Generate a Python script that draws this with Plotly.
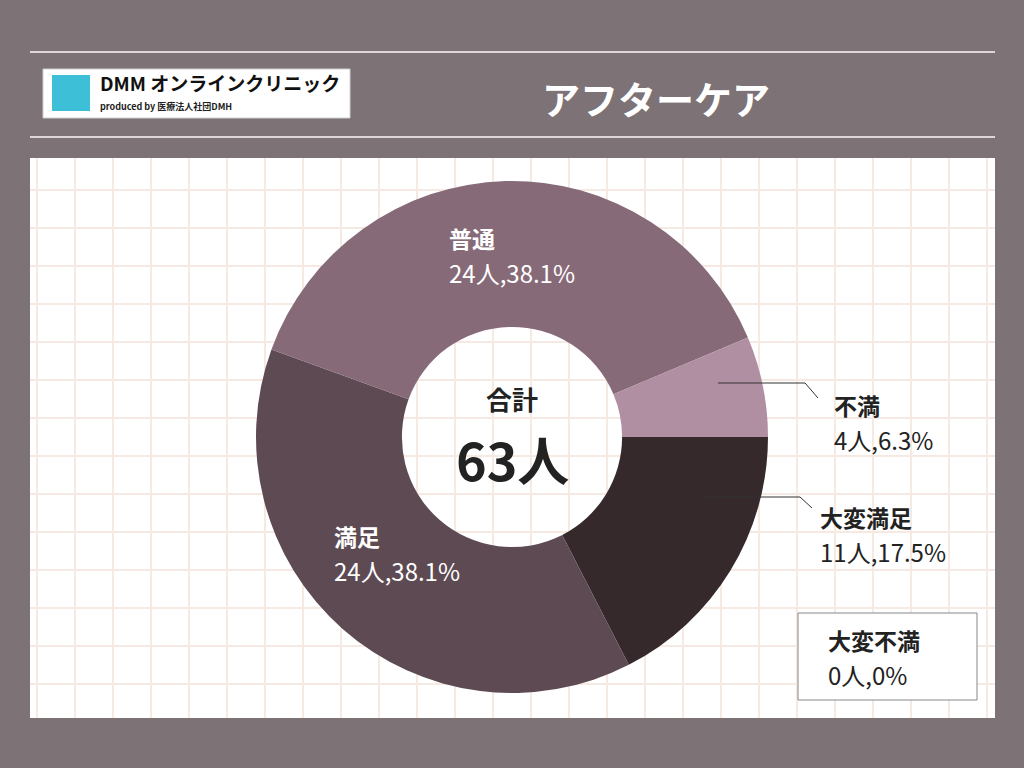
import plotly.graph_objects as go

labels = ["大変満足", "満足", "普通", "不満", "大変不満"]
counts = [11, 24, 24, 4, 0]
pcts = ["17.5%", "38.1%", "38.1%", "6.3%", "0%"]
colors = ["#35292c", "#5e4a53", "#876a78", "#b08fa3", "#cccccc"]
total = 63

W, H = 1024, 768
def px(x): return x / W
def py(y): return 1 - y / H

F = "Noto Sans CJK JP"
fig = go.Figure()
fig.add_trace(go.Pie(labels=labels[:4], values=counts[:4], marker=dict(colors=colors[:4], line=dict(width=0)),
                     hole=0.43, sort=False, direction="clockwise", rotation=90, textinfo="none",
                     hoverinfo="label+value+percent", showlegend=False,
                     domain=dict(x=[px(256), px(768)], y=[py(693), py(181)])))

shapes = []
shapes.append(dict(type="rect", xref="paper", yref="paper", x0=px(30), x1=px(995), y0=py(718), y1=py(158),
                   fillcolor="white", line=dict(width=0), layer="below"))
gx = 37
while gx < 995:
    shapes.append(dict(type="line", xref="paper", yref="paper", x0=px(gx), x1=px(gx), y0=py(718), y1=py(158),
                       line=dict(color="#f6e9e2", width=2), layer="below"))
    gx += 38
gy = 190
while gy < 718:
    shapes.append(dict(type="line", xref="paper", yref="paper", x0=px(30), x1=px(995), y0=py(gy), y1=py(gy),
                       line=dict(color="#f6e9e2", width=2), layer="below"))
    gy += 38
for yy in (52, 137):
    shapes.append(dict(type="line", xref="paper", yref="paper", x0=px(30), x1=px(995), y0=py(yy), y1=py(yy),
                       line=dict(color="#ddd6d8", width=2)))
shapes.append(dict(type="rect", xref="paper", yref="paper", x0=px(43), x1=px(350), y0=py(118), y1=py(69),
                   fillcolor="white", line=dict(color="#cfcfcf", width=1)))
shapes.append(dict(type="rect", xref="paper", yref="paper", x0=px(52), x1=px(90), y0=py(111), y1=py(75),
                   fillcolor="#3dbfd8", line=dict(width=0)))
shapes.append(dict(type="path", xref="paper", yref="paper",
                   path=f"M {px(718)},{py(383)} L {px(805)},{py(383)} L {px(818)},{py(398)}",
                   line=dict(color="#333", width=1)))
shapes.append(dict(type="path", xref="paper", yref="paper",
                   path=f"M {px(705)},{py(497)} L {px(800)},{py(497)} L {px(812)},{py(508)}",
                   line=dict(color="#333", width=1)))
shapes.append(dict(type="rect", xref="paper", yref="paper", x0=px(798), x1=px(977), y0=py(700), y1=py(613),
                   fillcolor="white", line=dict(color="#888", width=1)))

ann = []
def t(x, y, s, size, color, anchor="left"):
    ann.append(dict(x=px(x), y=py(y), xref="paper", yref="paper", text=s, showarrow=False,
                    xanchor=anchor, yanchor="middle", font=dict(family=F, size=size, color=color)))

t(98, 82, "<b>DMM</b> <b>オンラインクリニック</b>", 19, "#111")
t(98, 106, "<b>produced by 医療法人社団DMH</b>", 9, "#222")
t(540, 97, "<b>アフターケア</b>", 38, "white")
t(512, 398, "<b>合計</b>", 26, "#222", "center")
t(512, 458, f"<b>{total}人</b>", 52, "#222", "center")

pos = {"普通": (447, 238, "white"), "満足": (332, 536, "white"),
       "不満": (832, 405, "#222"), "大変満足": (818, 517, "#222"), "大変不満": (826, 640, "#222")}
for lab, c, p in zip(labels, counts, pcts):
    x, y, col = pos[lab]
    t(x, y, f"<b>{lab}</b>", 23, col)
    t(x, y + 34, f"{c}人,{p}", 24, col)

fig.update_layout(width=W, height=H, margin=dict(l=0, r=0, t=0, b=0), paper_bgcolor="#7d7276",
                  shapes=shapes, annotations=ann)
fig.write_html("out.html", config={"displayModeBar": False},
               post_script="document.body.style.margin='0';document.body.style.overflow='hidden';")
